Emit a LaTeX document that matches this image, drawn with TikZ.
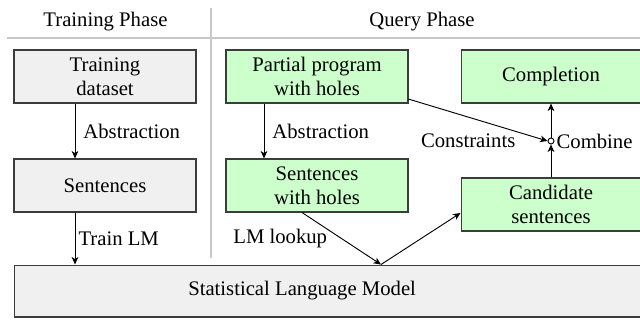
\documentclass[tikz,border=0pt]{standalone}
\usepackage{fontspec}
\setmainfont{Liberation Serif}
\usetikzlibrary{arrows.meta}
\definecolor{boxgray}{HTML}{F0F0F0}
\definecolor{boxgreen}{HTML}{CCFFCC}
\definecolor{edgecol}{HTML}{3C3C3C}
\definecolor{sepcol}{HTML}{C8C8C8}
\begin{document}
\begin{tikzpicture}[x=0.483pt,y=-0.483pt, font=\fontsize{10}{11.4}\selectfont,
  box/.style={draw=edgecol, line width=0.5pt, minimum width=87.9pt, minimum height=25.6pt, align=center, inner sep=0pt},
  gbox/.style={box, fill=boxgray},
  qbox/.style={box, fill=boxgreen},
  arr/.style={-{Stealth[length=3.6pt,width=3.2pt,inset=1pt]}, line width=0.45pt},
  sepline/.style={draw=sepcol, line width=0.5pt}]
\useasboundingbox (0,0) rectangle (640,322);
\node (h1) at (105.5,22) {Training Phase};
\node (h2) at (422,22) {Query Phase};
\draw[sepline] (7,38) -- (640,38);
\draw[sepline] (211,8) -- (211,258);

\node[gbox] (td) at (105,76.5) {Training\\dataset};
\node[gbox] (sl) at (105,185.5) {Sentences};
\node[qbox] (pp) at (317,76.5) {Partial program\\with holes};
\node[qbox] (sh) at (317,185.5) {Sentences\\with holes};
\node[qbox, minimum width=86.9pt] (comp) at (551,76.5) {Completion};
\node[qbox, minimum width=86.9pt] (cand) at (551,204.5) {Candidate\\sentences};
\node[gbox, minimum width=307.2pt, minimum height=25.1pt, anchor=west,
  label={[xshift=-14.7pt]center:Statistical Language Model}] (slm) at (14,291) {};
\node[circle, draw=black, fill=white, inner sep=0pt, minimum size=2.9pt, line width=0.45pt,
  label={[label distance=-2.5pt]right:Combine}] (comb) at (551,141) {};

\coordinate (lx) at (75,0);
\coordinate (qx) at (264,0);
\coordinate (ax) at (302,0);
\coordinate (bx) at (381,0);
\draw[arr] (td.south -| lx) -- node[right, xshift=0.5pt]{Abstraction} (sl.north -| lx);
\draw[arr] (sl.south -| lx) -- node[right, inner xsep=1.5pt]{Train LM} (slm.north -| lx);
\draw[arr] (pp.south -| qx) -- node[right, xshift=0.5pt]{Abstraction} (sh.north -| qx);
\draw[arr] (sh.south -| ax) -- node[anchor=east, xshift=-3.4pt]{LM lookup} (slm.north -| bx);
\draw[arr] (slm.north -| bx) -- ([yshift=-4.1pt]cand.west);
\draw[arr] ([yshift=-10.9pt]pp.east) -- (comb.west) node[anchor=east, xshift=-12pt]{Constraints};
\draw[arr] (cand.north) -- (comb.south);
\draw[arr] (comb.north) -- (comp.south);
\end{tikzpicture}
\end{document}
